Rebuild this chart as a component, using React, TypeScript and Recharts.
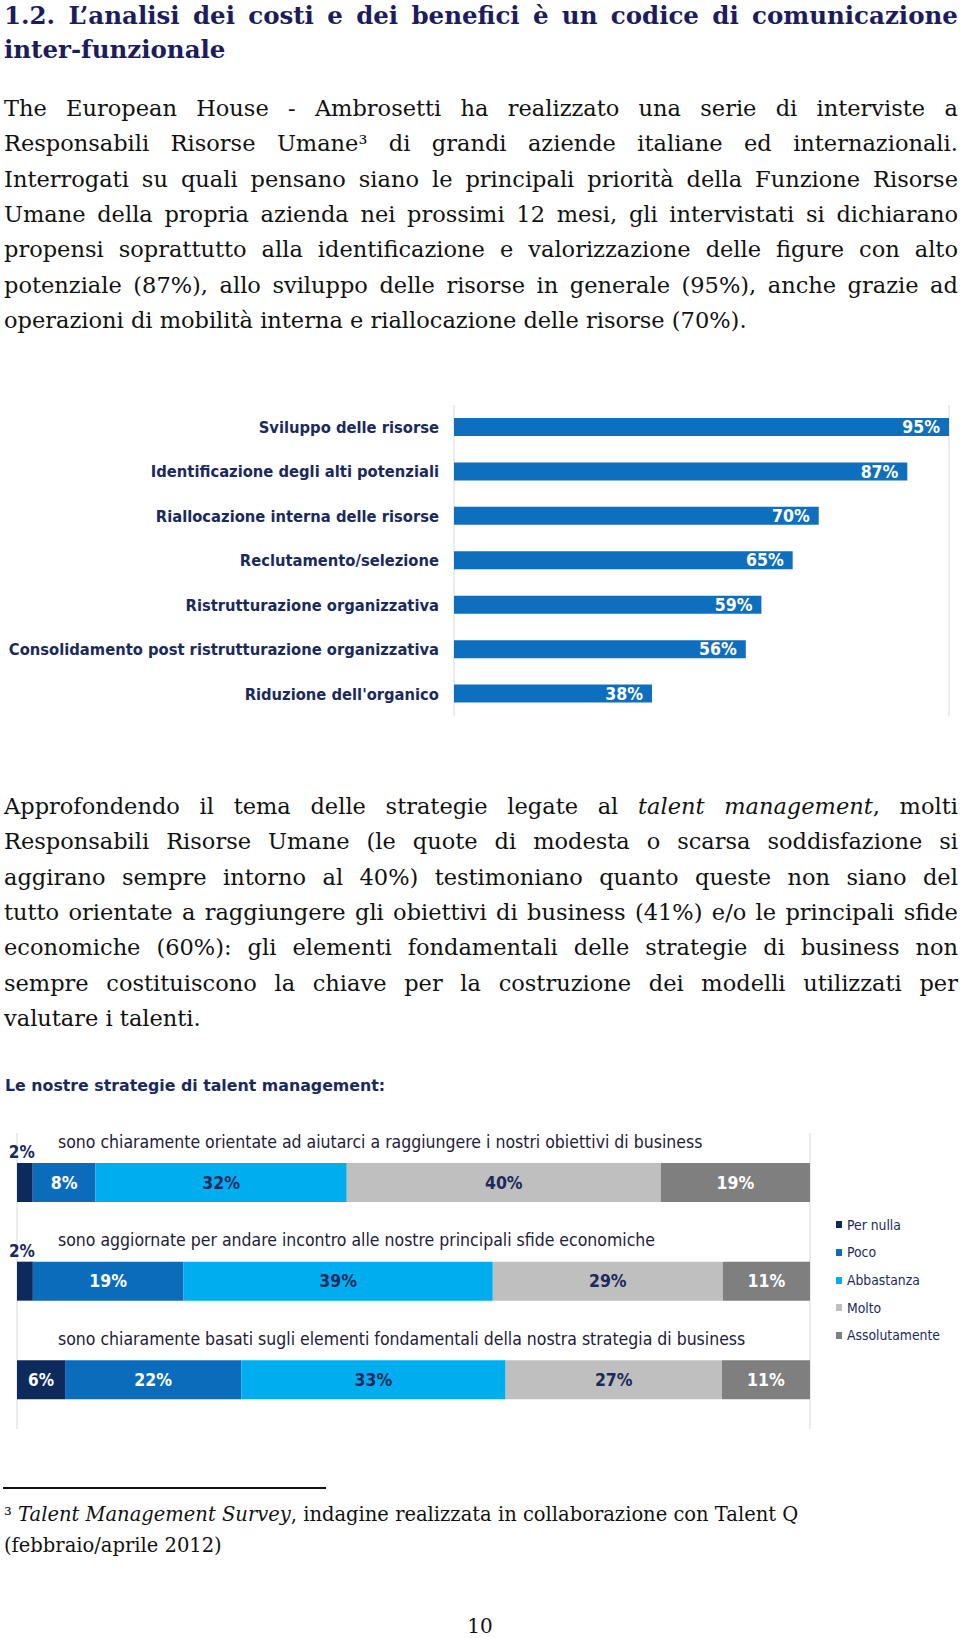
import React from 'react';
import { BarChart, Bar, XAxis, YAxis, CartesianGrid, LabelList, Legend } from 'recharts';

// ---- chart 1: priorità HR nei prossimi 12 mesi
const priorities = [
  'Sviluppo delle risorse',
  'Identificazione degli alti potenziali',
  'Riallocazione interna delle risorse',
  'Reclutamento/selezione',
  'Ristrutturazione organizzativa',
  'Consolidamento post ristrutturazione organizzativa',
  "Riduzione dell'organico",
];
const priorityValues = [95, 87, 70, 65, 59, 56, 38];
const priorityGridTicks = [0, 10, 20, 30, 40, 50, 60, 70, 80, 90];
const slotTicks = [0, 1, 2, 3, 4, 5, 6, 7];

// ---- chart 2: strategie di talent management
const strategies = [
  'sono chiaramente orientate ad aiutarci a raggiungere i nostri obiettivi di business',
  'sono aggiornate per andare incontro alle nostre principali sfide economiche',
  'sono chiaramente basati sugli elementi fondamentali della nostra strategia di business',
];
const seriesNames = ['Per nulla', 'Poco', 'Abbastanza', 'Molto', 'Assolutamente'];
const perNulla = [2, 2, 6];
const poco = [8, 19, 22];
const abbastanza = [32, 39, 33];
const molto = [40, 29, 27];
const assolutamente = [19, 11, 11];
const shareTicks = [0, 0.1, 0.2, 0.3, 0.4, 0.5, 0.6, 0.7, 0.8, 0.9, 1];

// ---- page text
const titleLines = [
  '1.2. L’analisi dei costi e dei benefici è un codice di comunicazione',
  'inter-funzionale',
];
const para1 = [
  'The European House - Ambrosetti ha realizzato una serie di interviste a',
  'Responsabili Risorse Umane³ di grandi aziende italiane ed internazionali.',
  'Interrogati su quali pensano siano le principali priorità della Funzione Risorse',
  'Umane della propria azienda nei prossimi 12 mesi, gli intervistati si dichiarano',
  'propensi soprattutto alla identificazione e valorizzazione delle figure con alto',
  'potenziale (87%), allo sviluppo delle risorse in generale (95%), anche grazie ad',
  'operazioni di mobilità interna e riallocazione delle risorse (70%).',
];
const para2 = [
  'Approfondendo il tema delle strategie legate al *talent management*, molti',
  'Responsabili Risorse Umane (le quote di modesta o scarsa soddisfazione si',
  'aggirano sempre intorno al 40%) testimoniano quanto queste non siano del',
  'tutto orientate a raggiungere gli obiettivi di business (41%) e/o le principali sfide',
  'economiche (60%): gli elementi fondamentali delle strategie di business non',
  'sempre costituiscono la chiave per la costruzione dei modelli utilizzati per',
  'valutare i talenti.',
];
const footnote = [
  '³ *Talent Management Survey*, indagine realizzata in collaborazione con Talent Q',
  '(febbraio/aprile 2012)',
];

const SERIF = "'DejaVu Serif', serif";
const SANS = "'DejaVu Sans', sans-serif";
const SANS_C = "'DejaVu Sans Condensed', 'DejaVu Sans', sans-serif";
const NAVY = '#1b2a5c';

const wordNodes = (line: string) => {
  let italic = false;
  return line.split(' ').map((word, wi) => {
    const pieces: React.ReactNode[] = [];
    let buf = '';
    const flush = (k: number) => {
      if (buf) {
        pieces.push(<span key={k} style={{ fontStyle: italic ? 'italic' : 'normal' }}>{buf}</span>);
        buf = '';
      }
    };
    [...word].forEach((ch, ci) => {
      if (ch === '*') {
        flush(ci);
        italic = !italic;
      } else buf += ch;
    });
    flush(999);
    return <span key={wi}>{pieces}</span>;
  });
};

const TextLine = ({ text, top, size, lh, justify, bold, color, left = 4, width = 954 }: any) => {
  const words = wordNodes(text);
  return (
    <div
      style={{
        position: 'absolute',
        left,
        top,
        width,
        height: lh,
        lineHeight: `${lh}px`,
        fontSize: size,
        fontFamily: SERIF,
        fontWeight: bold ? 'bold' : 'normal',
        color: color || '#111',
        whiteSpace: 'nowrap',
        display: justify ? 'flex' : 'block',
        justifyContent: 'space-between',
      }}
    >
      {justify ? words : words.map((w, i) => <React.Fragment key={i}>{i > 0 ? ' ' : ''}{w}</React.Fragment>)}
    </div>
  );
};

const Paragraph = ({ lines, top, size, lh }: any) => (
  <>
    {lines.map((l: string, i: number) => (
      <TextLine key={i} text={l} top={top + i * lh} size={size} lh={lh} justify={i < lines.length - 1} />
    ))}
  </>
);

// category text drawn just above each stacked bar
const StrategyLabel = (props: any) => {
  const x = Number(props.x);
  const y = Number(props.y);
  return (
    <text x={x + 41} y={y - 21.5} textAnchor="start" dominantBaseline="central" fontFamily={SANS_C} fontSize={17.5} fill="#1e2038">
      {props.value}
    </text>
  );
};

const PerNullaLabel = (props: any) => {
  const x = Number(props.x);
  const y = Number(props.y);
  const w = Number(props.width);
  const h = Number(props.height);
  const v = Number(props.value);
  if (v < 5) {
    return (
      <text x={x + w / 2 - 3} y={y - 11} textAnchor="middle" dominantBaseline="central" fontFamily={SANS_C} fontWeight="bold" fontSize={17} fill={NAVY}>
        {v}%
      </text>
    );
  }
  return (
    <text x={x + w / 2} y={y + h / 2} textAnchor="middle" dominantBaseline="central" fontFamily={SANS_C} fontWeight="bold" fontSize={17} fill="#fff">
      {v}%
    </text>
  );
};

const renderLegend = (props: any) => {
  const items = [...(props.payload || [])].sort(
    (a: any, b: any) => seriesNames.indexOf(a.value) - seriesNames.indexOf(b.value)
  );
  return (
    <div style={{ width: 110, paddingLeft: 26, boxSizing: 'border-box' }}>
      {items.map((e: any) => (
        <div key={e.value} style={{ height: 27.7, display: 'flex', alignItems: 'center', fontFamily: SANS_C, fontSize: 13.8, color: NAVY, whiteSpace: 'nowrap' }}>
          <span style={{ display: 'inline-block', flexShrink: 0, width: 6, height: 7, background: e.color, marginRight: 5 }} />
          {e.value}
        </div>
      ))}
    </div>
  );
};

const pct = (v: any) => `${v}%`;

export default function App() {
  const data1 = priorities.map((name, i) => ({ name, value: priorityValues[i] }));
  const data2 = strategies.map((name, i) => ({
    name,
    perNulla: perNulla[i],
    poco: poco[i],
    abbastanza: abbastanza[i],
    molto: molto[i],
    assolutamente: assolutamente[i],
  }));
  const segLabel = (fill: string) => ({
    position: 'center' as const,
    formatter: pct,
    fill,
    fontFamily: SANS_C,
    fontWeight: 'bold',
    fontSize: 17.5,
  });

  return (
    <div style={{ position: 'absolute', left: 0, top: 0, width: 960, height: 1638, background: '#fff', overflow: 'hidden' }}>
      {titleLines.map((l, i) => (
        <TextLine key={i} text={l} top={-1 + i * 34} size={24.5} lh={34} bold color="#1c1c5e" justify={i === 0} />
      ))}
      <Paragraph lines={para1} top={91} size={22.5} lh={35.3} />

      <div style={{ position: 'absolute', left: 0, top: 395 }}>
        <BarChart width={960} height={330} data={data1} layout="vertical" margin={{ top: 10, right: 11, bottom: 9, left: 0 }}>
          <CartesianGrid horizontal={false} stroke="#d9d9d9" />
          <XAxis type="number" domain={[0, 95]} ticks={priorityGridTicks} axisLine={false} tickLine={false} tick={false} height={0} />
          <YAxis yAxisId="slots" type="number" domain={[0, 7]} ticks={slotTicks} width={0} tick={false} tickSize={5} stroke="#a6a6a6" />
          <YAxis
            yAxisId="cat"
            type="category"
            dataKey="name"
            width={454}
            axisLine={false}
            tickLine={false}
            tickMargin={9}
            tick={{ fill: NAVY, fontFamily: SANS_C, fontWeight: 'bold', fontSize: 16.4 }}
          />
          <Bar yAxisId="cat" dataKey="value" fill="#0e6fbf" barSize={18} isAnimationActive={false}>
            <LabelList dataKey="value" position="insideRight" offset={9} formatter={pct} fill="#fff" fontFamily={SANS_C} fontWeight="bold" fontSize={17.5} />
          </Bar>
        </BarChart>
      </div>

      <Paragraph lines={para2} top={789} size={22.5} lh={35.3} />

      <div style={{ position: 'absolute', left: 5, top: 1075, height: 22, lineHeight: '22px', fontFamily: SANS, fontWeight: 'bold', fontSize: 15.8, color: NAVY }}>
        Le nostre strategie di talent management:
      </div>

      <div style={{ position: 'absolute', left: 0, top: 1120 }}>
        <BarChart width={960} height={320} data={data2} layout="vertical" stackOffset="expand" margin={{ top: 13, right: 40, bottom: 11, left: 17 }}>
          <CartesianGrid horizontal={false} stroke="#d9d9d9" />
          <XAxis type="number" domain={[0, 1]} ticks={shareTicks} axisLine={false} tickLine={false} tick={false} height={0} />
          <YAxis type="category" dataKey="name" hide />
          <Legend layout="vertical" align="right" verticalAlign="middle" content={renderLegend} />
          <Bar stackId="s" dataKey="perNulla" name="Per nulla" fill="#0c2a5c" barSize={39} isAnimationActive={false}>
            <LabelList dataKey="perNulla" content={PerNullaLabel} />
            <LabelList dataKey="name" content={StrategyLabel} />
          </Bar>
          <Bar stackId="s" dataKey="poco" name="Poco" fill="#0b6cbc" barSize={39} isAnimationActive={false}>
            <LabelList dataKey="poco" {...segLabel('#fff')} />
          </Bar>
          <Bar stackId="s" dataKey="abbastanza" name="Abbastanza" fill="#00aeef" barSize={39} isAnimationActive={false}>
            <LabelList dataKey="abbastanza" {...segLabel(NAVY)} />
          </Bar>
          <Bar stackId="s" dataKey="molto" name="Molto" fill="#bfbfbf" barSize={39} isAnimationActive={false}>
            <LabelList dataKey="molto" {...segLabel(NAVY)} />
          </Bar>
          <Bar stackId="s" dataKey="assolutamente" name="Assolutamente" fill="#7f7f7f" barSize={39} isAnimationActive={false}>
            <LabelList dataKey="assolutamente" {...segLabel('#fff')} />
          </Bar>
        </BarChart>
      </div>

      <div style={{ position: 'absolute', left: 3, top: 1487, width: 323, height: 1.5, background: '#111' }} />
      {footnote.map((l, i) => (
        <TextLine key={i} text={l} top={1498.5 + i * 31} size={19.5} lh={31} />
      ))}
      <div style={{ position: 'absolute', left: 0, width: 960, top: 1611, height: 30, lineHeight: '30px', textAlign: 'center', fontFamily: SERIF, fontSize: 20, color: '#111' }}>
        10
      </div>
    </div>
  );
}
